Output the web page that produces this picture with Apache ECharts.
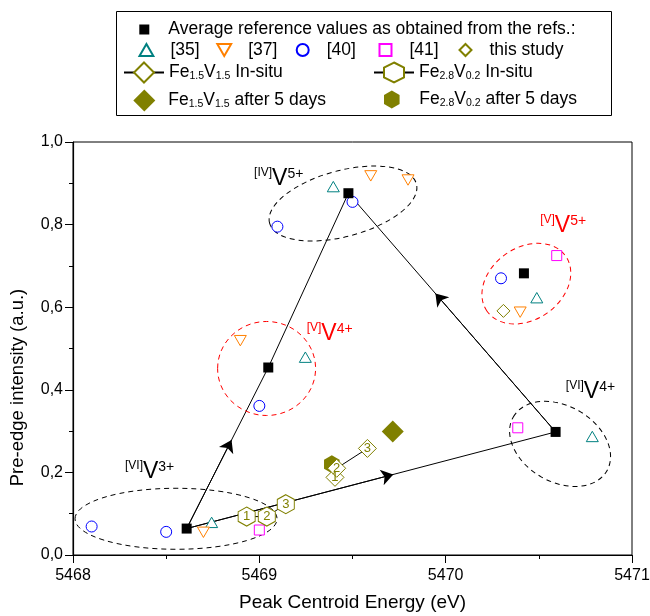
<!DOCTYPE html>
<html><head><meta charset="utf-8">
<script src="https://cdn.jsdelivr.net/npm/echarts@6/dist/echarts.min.js"></script>
<style>html,body{margin:0;padding:0;background:#fff}#c{width:650px;height:616px}</style>
</head><body><div id="c"></div>
<script>
const FONT = '"Liberation Sans", Arial, Helvetica, sans-serif';

// ---------- data ----------
const xRange = [5468, 5471];
const yRange = [0, 1];
const avgRef = [[5468.61,0.064],[5469.048,0.454],[5469.478,0.876],[5470.42,0.682],[5470.59,0.298]];
const ref35 = [[5469.397,0.892],[5469.247,0.479],[5470.489,0.623],[5470.787,0.287],[5468.744,0.079]];
const ref37 = [[5469.598,0.918],[5469.798,0.908],[5468.898,0.519],[5470.40,0.588],[5468.70,0.055]];
const ref40 = [[5469.097,0.795],[5469.50,0.855],[5469.0,0.361],[5470.297,0.670],[5468.10,0.069],[5468.50,0.056]];
const ref41 = [[5470.596,0.725],[5470.387,0.308],[5469.0,0.0605]];
const thisStudy = [[5470.31,0.591]];
const fe15InSitu = [[5469.406,0.188],[5469.415,0.210],[5469.58,0.258]];
const fe15Labels = ['1','2','3'];
const fe28InSitu = [[5468.932,0.093],[5469.04,0.093],[5469.142,0.123]];
const fe28Labels = ['1','2','3'];
const fe15After = [[5469.716,0.299]];
const fe28After = [[5469.389,0.220]];
// trend lines between averages (indices into avgRef) and arrow position along each
const trendSegments = [[0,1],[1,2],[4,2],[0,4]];
const arrowFractions = [0.55, null, 0.58, 0.56];

// ---------- names ----------
const N_AVG = 'Average reference values as obtained from the refs.:';
const N15IN = 'Fe1.5V1.5 In-situ', N28IN = 'Fe2.8V0.2 In-situ';
const N15AF = 'Fe1.5V1.5 after 5 days', N28AF = 'Fe2.8V0.2 after 5 days';
const richNames = {};
richNames[N15IN] = '{n|Fe}{s|1.5}{n|V}{s|1.5}{n| In-situ}';
richNames[N28IN] = '{n|Fe}{s|2.8}{n|V}{s|0.2}{n| In-situ}';
richNames[N15AF] = '{n|Fe}{s|1.5}{n|V}{s|1.5}{n| after 5 days}';
richNames[N28AF] = '{n|Fe}{s|2.8}{n|V}{s|0.2}{n| after 5 days}';

const OLIVE = '#808000', TEAL = '#008080', ORANGE = '#ff8000', BLUE = '#0000ff', MAG = '#ff00ff';
const HEX = 'path://M0,-10 L8.66,-5 L8.66,5 L0,10 L-8.66,5 L-8.66,-5 Z';
const DOWN = 'path://M-10,-8.66 L10,-8.66 L0,8.66 Z';
const UP = 'path://M0,-8.66 L10,8.66 L-10,8.66 Z';
const SQ = 'path://M-10,-10 L10,-10 L10,10 L-10,10 Z';
const DIA = 'path://M0,-10 L10,0 L0,10 L-10,0 Z';

// trend line data
const lineData = [];
trendSegments.forEach((s, i) => {
  const a = avgRef[s[0]], b = avgRef[s[1]];
  lineData.push({coords: [a, b]});
});
const arrowData = [];
trendSegments.forEach((s, i) => {
  const f = arrowFractions[i];
  if (f == null) return;
  const a = avgRef[s[0]], b = avgRef[s[1]];
  arrowData.push({coords: [a, [a[0] + (b[0]-a[0])*f, a[1] + (b[1]-a[1])*f]]});
});

const legendText = {
  fontFamily: FONT, fontSize: 17.5, color: '#000',
  rich: {
    n: {fontFamily: FONT, fontSize: 17.5, color: '#000'},
    s: {fontFamily: FONT, fontSize: 10.5, color: '#000', verticalAlign: 'bottom', lineHeight: 2}
  }
};
const legendFmt = name => richNames[name] || name;
function mkLegend(data, left, top, w, h) {
  return {data, left, top, itemWidth: w, itemHeight: h, itemGap: 0, orient: 'horizontal',
    selectedMode: false, textStyle: legendText, formatter: legendFmt, padding: 0, symbolKeepAspect: true};
}

const ptLabel = (arr) => ({show: true, position: 'inside', formatter: p => arr[p.dataIndex],
  color: OLIVE, fontSize: 13, fontFamily: FONT});
const open = c => ({color: '#fff', borderColor: c, borderWidth: 1, opacity: 1});

const option = {
  animation: false,
  backgroundColor: '#fff',
  textStyle: {fontFamily: FONT},
  grid: {left: 73, right: 18, top: 142, bottom: 61, show: true, borderColor: '#000', borderWidth: 1,
    backgroundColor: 'transparent', containLabel: false, outerBoundsMode: 'none'},
  legend: [
    mkLegend([N_AVG], 139.3, 20.5, 38, 10),
    mkLegend(['[35]'], 138.5, 41, 38, 12),
    mkLegend(['[37]'], 216.3, 41, 38, 12),
    mkLegend(['[40]'], 295.7, 41, 38, 12),
    mkLegend(['[41]'], 378.5, 41, 38, 12),
    mkLegend(['this study'], 458.5, 41, 38, 12),
    mkLegend([N15IN], 123, 61.5, 40, 25),
    mkLegend([N28IN], 373, 61.5, 40, 25),
    mkLegend([N15AF], 133.3, 89.5, 38, 22),
    mkLegend([N28AF], 384, 90.5, 45, 18)
  ],
  xAxis: {
    type: 'value', min: xRange[0], max: xRange[1], interval: 1,
    name: 'Peak Centroid Energy (eV)', nameLocation: 'middle', nameGap: 38,
    nameTextStyle: {fontSize: 19, color: '#000', fontFamily: FONT},
    axisLine: {lineStyle: {color: '#000', width: 1.2}},
    axisTick: {length: 8, lineStyle: {color: '#000'}},
    minorTick: {show: true, splitNumber: 2, length: 4, lineStyle: {color: '#000'}},
    splitLine: {show: false},
    axisLabel: {fontSize: 16, color: '#000', margin: 13, fontFamily: FONT, formatter: v => String(v)}
  },
  yAxis: {
    type: 'value', min: yRange[0], max: yRange[1], interval: 0.2,
    name: 'Pre-edge intensity (a.u.)', nameLocation: 'middle', nameGap: 46,
    nameTextStyle: {fontSize: 18.5, color: '#000', fontFamily: FONT, padding: [0, 78, 0, 0]},
    axisLine: {lineStyle: {color: '#000', width: 1.2}},
    axisTick: {length: 8, lineStyle: {color: '#000'}},
    minorTick: {show: true, splitNumber: 2, length: 4, lineStyle: {color: '#000'}},
    splitLine: {show: false},
    axisLabel: {fontSize: 16, color: '#000', margin: 10, fontFamily: FONT,
      formatter: v => v.toFixed(1).replace('.', ',')}
  },
  series: [
    {type: 'lines', coordinateSystem: 'cartesian2d', data: lineData, silent: true, z: 1,
      lineStyle: {color: '#000', width: 1, opacity: 1}, symbol: ['none','none']},
    {type: 'lines', coordinateSystem: 'cartesian2d', data: arrowData, silent: true, z: 1,
      lineStyle: {color: '#000', width: 1, opacity: 1}, symbol: ['none','arrow'], symbolSize: 12},
    {name: N_AVG, type: 'scatter', data: avgRef, symbol: SQ, symbolSize: 10, z: 5, symbolKeepAspect: true,
      itemStyle: {color: '#000', opacity: 1}},
    {name: '[35]', type: 'scatter', data: ref35, symbol: UP, symbolSize: 12, z: 4, symbolKeepAspect: true,
      itemStyle: open(TEAL)},
    {name: '[37]', type: 'scatter', data: ref37, symbol: DOWN, symbolSize: 12, z: 4, symbolKeepAspect: true,
      itemStyle: open(ORANGE)},
    {name: '[40]', type: 'scatter', data: ref40, symbol: 'circle', symbolSize: 11, z: 4,
      itemStyle: open(BLUE)},
    {name: '[41]', type: 'scatter', data: ref41, symbol: SQ, symbolSize: 10, z: 4, symbolKeepAspect: true,
      itemStyle: open(MAG)},
    {name: 'this study', type: 'scatter', data: thisStudy, symbol: DIA, symbolSize: 13, z: 4, symbolKeepAspect: true,
      itemStyle: open(OLIVE)},
    {name: N28AF, type: 'scatter', data: fe28After, symbol: HEX, symbolSize: 18, z: 3, symbolKeepAspect: true,
      itemStyle: {color: OLIVE, opacity: 1}},
    {name: N28IN, type: 'line', data: fe28InSitu, symbol: HEX, symbolSize: [17, 19], z: 4,
      showAllSymbol: true, lineStyle: {color: '#000', width: 1},
      itemStyle: open(OLIVE), label: ptLabel(fe28Labels)},
    {name: N15IN, type: 'line', data: fe15InSitu, symbol: DIA, symbolSize: 18, z: 4,
      showAllSymbol: true, lineStyle: {color: '#000', width: 1},
      itemStyle: open(OLIVE), label: ptLabel(fe15Labels)},
    {name: N15AF, type: 'scatter', data: fe15After, symbol: DIA, symbolSize: 22, z: 4, symbolKeepAspect: true,
      itemStyle: {color: OLIVE, opacity: 1}}
  ]
};

const chart = echarts.init(document.getElementById('c'), null, {renderer: 'canvas'});
chart.setOption(option);

// ---------- annotations: dashed ellipses and species labels ----------
const ellipses = [
  {c: [5469.449, 0.851], rx: 76, ry: 33, rot: 15, color: '#000'},
  {c: [5469.039, 0.4516], rx: 49, ry: 47, rot: 0, color: '#ff0000'},
  {c: [5470.433, 0.657], rx: 48, ry: 36, rot: 35, color: '#ff0000'},
  {c: [5470.614, 0.269], rx: 54, ry: 38, rot: -30, color: '#000'},
  {c: [5468.553, 0.0877], rx: 101, ry: 30.5, rot: 0, color: '#000'}
];
const species = [
  {at: [5468.972, 0.891], pre: '[IV]', ox: '5+', color: '#000'},
  {at: [5469.254, 0.5165], pre: '[V]', ox: '4+', color: '#ff0000'},
  {at: [5470.507, 0.777], pre: '[V]', ox: '5+', color: '#ff0000'},
  {at: [5470.645, 0.375], pre: '[VI]', ox: '4+', color: '#000'},
  {at: [5468.279, 0.1816], pre: '[VI]', ox: '3+', color: '#000'}
];
const px = c => chart.convertToPixel({gridIndex: 0}, c);
const graphics = [];
ellipses.forEach(e => {
  const p = px(e.c);
  graphics.push({type: 'ellipse', x: p[0], y: p[1], rotation: e.rot * Math.PI / 180, z: 1, silent: true,
    shape: {cx: 0, cy: 0, rx: e.rx, ry: e.ry},
    style: {fill: 'none', stroke: e.color, lineWidth: 1, lineDash: [5, 4]}});
});
species.forEach(s => {
  const p = px(s.at);
  graphics.push({type: 'text', x: p[0], y: p[1] + 4, z: 10, silent: true,
    style: {text: '{a|' + s.pre + '}{v|V}{b|' + s.ox + '}', verticalAlign: 'bottom', align: 'left', fill: s.color,
      rich: {
        a: {fontFamily: FONT, fontSize: 12, fill: s.color, verticalAlign: 'top', lineHeight: 14},
        v: {fontFamily: FONT, fontSize: 23, fill: s.color, lineHeight: 24},
        b: {fontFamily: FONT, fontSize: 14, fill: s.color, verticalAlign: 'top', lineHeight: 16}
      }}});
});
// legend frame
graphics.push({type: 'rect', shape: {x: 116.5, y: 11.5, width: 495, height: 104}, silent: true,
  style: {fill: 'none', stroke: '#000', lineWidth: 1}});
chart.setOption({graphic: graphics});
</script></body></html>
